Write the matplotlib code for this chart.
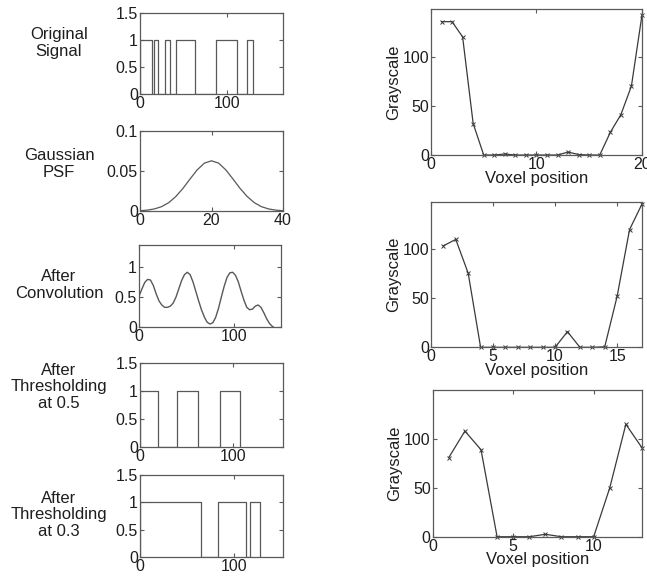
import numpy as np
import matplotlib
matplotlib.use('Agg')
import matplotlib.pyplot as plt

plt.rcParams['font.family'] = ['Liberation Sans', 'DejaVu Sans']
plt.rcParams['font.size'] = 11.5
plt.rcParams['xtick.direction'] = 'in'
plt.rcParams['ytick.direction'] = 'in'
plt.rcParams['xtick.top'] = True
plt.rcParams['ytick.right'] = True
plt.rcParams['xtick.major.size'] = 3
plt.rcParams['ytick.major.size'] = 3
plt.rcParams['xtick.major.pad'] = 1.5
plt.rcParams['ytick.major.pad'] = 1.5

LINE_L = '#585858'
LINE_R = '#3a3a3a'
EDGE = '#5a5a5a'
TEXT = '#1e1e1e'

# --- left column data ---
# pulse edges: signal switches 1 -> 0 -> 1 ... starting high at the first edge
ORIG_EDGES = [0, 14, 16.5, 20.5, 29, 34, 41.5, 63.5, 87.5, 111.3, 122.8, 129.7]
THR05_EDGES = [0, 19, 40, 62, 86, 108]
THR03_EDGES = [0, 65, 83, 113, 117, 128]

PSF_X = [0, 2, 4, 6, 8, 10, 12, 14, 16, 18, 20, 22, 24, 26, 28, 30, 32, 34, 36, 38, 40]
PSF_Y = [0.0004, 0.0011, 0.0026, 0.0054, 0.0104, 0.0181, 0.0283, 0.0402, 0.0516, 0.0600, 0.0630,
         0.0600, 0.0516, 0.0402, 0.0283, 0.0181, 0.0104, 0.0054, 0.0026, 0.0011, 0.0004]

CONV_X = [0, 3, 6, 9, 12, 15, 18, 21, 24, 27, 30, 33, 36, 39, 42, 45, 48, 51, 54, 57, 60, 63, 66,
          69, 72, 75, 78, 81, 84, 87, 90, 93, 96, 99, 102, 105, 108, 111, 114, 117, 120, 123,
          126, 129, 132, 135, 138, 141, 142]
CONV_Y = [0.52, 0.64, 0.75, 0.80, 0.79, 0.70, 0.56, 0.44, 0.37, 0.33, 0.33, 0.35, 0.40, 0.50,
          0.64, 0.78, 0.88, 0.92, 0.88, 0.76, 0.60, 0.44, 0.29, 0.17, 0.08, 0.05, 0.07, 0.16,
          0.31, 0.50, 0.68, 0.83, 0.91, 0.92, 0.87, 0.76, 0.60, 0.45, 0.33, 0.29, 0.30, 0.35,
          0.37, 0.33, 0.24, 0.14, 0.06, 0.01, 0.0]

# --- right column data ---
R1_X = list(range(1, 21))
R1_Y = [135.5, 135.5, 120, 32, 0, 0, 1, 0, 0, 0, 0, 0, 3, 0.5, 0, 0, 23, 41, 70, 142]
R2_X = list(range(1, 18))
R2_Y = [103.5, 110, 75.5, 0, 0, 0, 0, 0, 0, 0, 16, 0, 0, 0.5, 52, 120, 146]
R3_X = list(range(1, 14))
R3_Y = [81, 108, 89, 0, 0, 0, 2.5, 0, 0, 0, 50, 115, 91]

LEFT_LABELS = ['Original\nSignal', 'Gaussian\nPSF', 'After\nConvolution',
               'After\nThresholding\nat 0.5', 'After\nThresholding\nat 0.3']


def pulses(edges):
    xs, ys = [], []
    level = 1
    for e in edges:
        xs += [e, e]
        ys += [1 - level, level]
        level = 1 - level
    return xs, ys


def style(ax):
    for s in ax.spines.values():
        s.set_color(EDGE)
        s.set_linewidth(0.9)
    ax.tick_params(colors=EDGE, labelcolor=TEXT, width=0.8)


fig = plt.figure(figsize=(6.47, 5.78), dpi=100)

# left column rects [left, bottom, width, height]
LRECTS = [[0.2164, 0.8374, 0.2210, 0.140],
          [0.2164, 0.6349, 0.2210, 0.138],
          [0.2150, 0.4343, 0.2190, 0.142],
          [0.2164, 0.2266, 0.2210, 0.145],
          [0.2164, 0.0363, 0.2210, 0.142]]
LABEL_Y = [43, 164, 285, 387, 515]

axes = [fig.add_axes(r) for r in LRECTS]

x, y = pulses(ORIG_EDGES)
axes[0].plot(x, y, color=LINE_L, lw=0.9)
axes[0].set(xlim=(0, 164), ylim=(0, 1.5), xticks=[0, 100], yticks=[0, 0.5, 1, 1.5])
axes[0].set_yticklabels(['0', '0.5', '1', '1.5'])

axes[1].plot(PSF_X, PSF_Y, color=LINE_L, lw=0.9)
axes[1].set(xlim=(0, 40), ylim=(0, 0.1), xticks=[0, 20, 40], yticks=[0, 0.05, 0.1])
axes[1].set_yticklabels(['0', '0.05', '0.1'])

axes[2].plot(CONV_X, CONV_Y, color=LINE_L, lw=1.0)
axes[2].set(xlim=(0, 150), ylim=(0, 1.38), xticks=[0, 100], yticks=[0, 0.5, 1])
axes[2].set_yticklabels(['0', '0.5', '1'])

x, y = pulses(THR05_EDGES)
axes[3].plot(x, y, color=LINE_L, lw=0.9)
axes[3].set(xlim=(0, 154), ylim=(0, 1.5), xticks=[0, 100], yticks=[0, 0.5, 1, 1.5])
axes[3].set_yticklabels(['0', '0.5', '1', '1.5'])

x, y = pulses(THR03_EDGES)
axes[4].plot(x, y, color=LINE_L, lw=0.9)
axes[4].set(xlim=(0, 152), ylim=(0, 1.5), xticks=[0, 100], yticks=[0, 0.5, 1, 1.5])
axes[4].set_yticklabels(['0', '0.5', '1', '1.5'])

for ax, lab, ly in zip(axes, LEFT_LABELS, LABEL_Y):
    style(ax)
    fig.text(59 / 647, 1 - ly / 578, lab, ha='center', va='center',
             fontsize=12, color=TEXT, linespacing=1.1)

# right column
RRECTS = [[0.6661, 0.7318, 0.3261, 0.252],
          [0.6661, 0.3991, 0.3261, 0.252],
          [0.6688, 0.0714, 0.3234, 0.2538]]
RDATA = [(R1_X, R1_Y, 20, 148, [0, 10, 20]),
         (R2_X, R2_Y, 17, 148.5, [0, 5, 10, 15]),
         (R3_X, R3_Y, 13, 150, [0, 5, 10])]

for rect, (rx, ry, xmax, ymax, xt) in zip(RRECTS, RDATA):
    ax = fig.add_axes(rect)
    ax.plot(rx, ry, color=LINE_R, lw=0.9, marker='x', ms=3, mew=0.7, clip_on=False)
    ax.set(xlim=(0, xmax), ylim=(0, ymax), xticks=xt, yticks=[0, 50, 100])
    ax.set_xlabel('Voxel position', fontsize=12, color=TEXT, labelpad=-1)
    ax.set_ylabel('Grayscale', fontsize=12, color=TEXT, labelpad=1)
    style(ax)

fig.savefig('out.png', dpi=100)
